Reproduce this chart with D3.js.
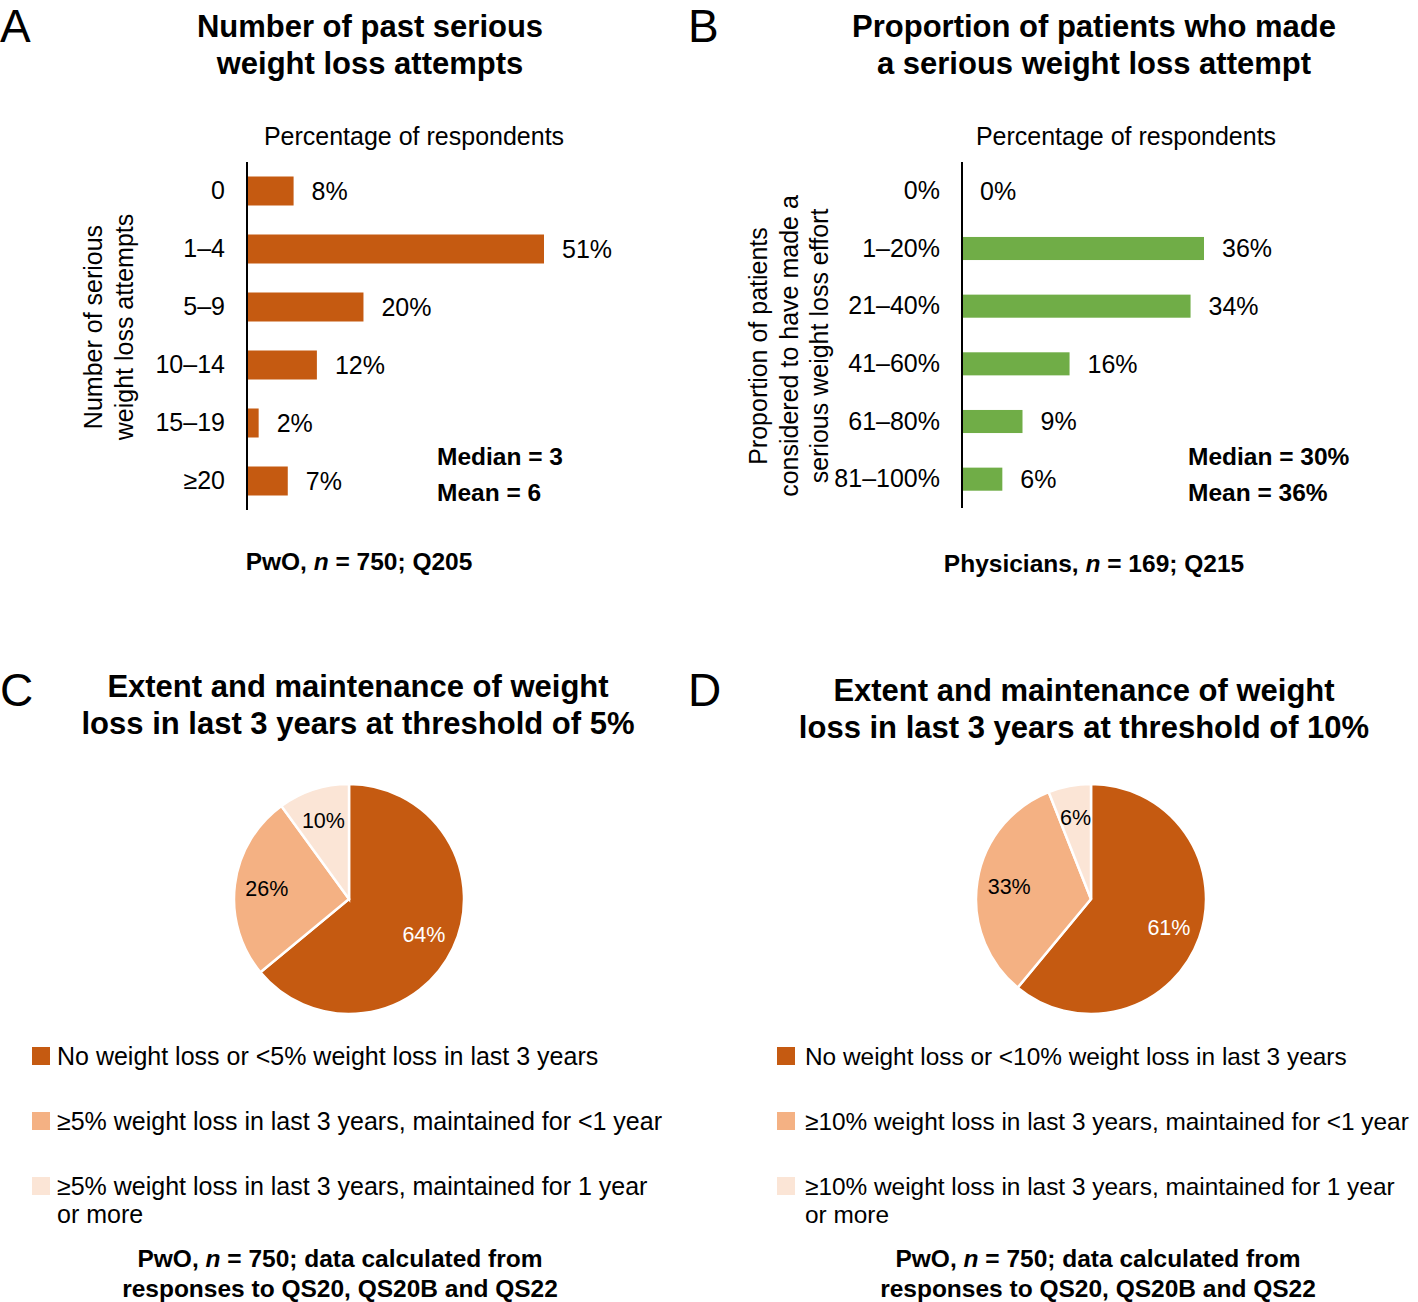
<!DOCTYPE html>
<html>
<head>
<meta charset="utf-8">
<script src="https://cdn.jsdelivr.net/npm/d3@7"></script>
<style>
  html, body { margin: 0; padding: 0; background: #fff; }
  svg text { font-family: "Liberation Sans", Arial, sans-serif; fill: #000; }
</style>
</head>
<body>
<svg id="chart" width="1418" height="1302"></svg>
<script>
// ---------- DATA ----------
const attemptCategories = ["0", "1–4", "5–9", "10–14", "15–19", "≥20"];
const attemptValues = [8, 51, 20, 12, 2, 7];

const proportionCategories = ["0%", "1–20%", "21–40%", "41–60%", "61–80%", "81–100%"];
const proportionValues = [0, 36, 34, 16, 9, 6];

const pieCValues = [64, 26, 10];
const pieDValues = [61, 33, 6];

const legendC = [
  ["No weight loss or <5% weight loss in last 3 years"],
  ["≥5% weight loss in last 3 years, maintained for <1 year"],
  ["≥5% weight loss in last 3 years, maintained for 1 year", "or more"]
];
const legendD = [
  ["No weight loss or <10% weight loss in last 3 years"],
  ["≥10% weight loss in last 3 years, maintained for <1 year"],
  ["≥10% weight loss in last 3 years, maintained for 1 year", "or more"]
];
const pieColors = ["#C55A11", "#F4B183", "#FBE5D6"];
const pieLabelColors = ["#ffffff", "#000000", "#000000"];

// ---------- STYLE CONSTANTS ----------
const FS = 25;      // regular text
const FSB = 24.5;   // bold notes
const FST = 31;     // titles

// ---------- DRAW ----------
const svg = d3.select("#chart");

function panelLetter(letter, x, y) {
  svg.append("text").attr("x", x).attr("y", y)
    .attr("font-size", 46).attr("font-weight", "normal").text(letter);
}

function titleLines(lines, cx, y0, step, size) {
  lines.forEach((l, i) => {
    svg.append("text").attr("x", cx).attr("y", y0 + i * step)
      .attr("text-anchor", "middle").attr("font-size", size)
      .attr("font-weight", "bold").text(l);
  });
}

function footnote(parts, cx, y) {
  const t = svg.append("text").attr("x", cx).attr("y", y)
    .attr("text-anchor", "middle").attr("font-size", FSB).attr("font-weight", "bold");
  parts.forEach(p => {
    const ts = t.append("tspan").text(p.t);
    if (p.i) ts.attr("font-style", "italic");
  });
}

function barPanel(opts) {
  const { cats, vals, axisX, maxVal, maxX, color, barPad, yTop, yBot } = opts;
  const x = d3.scaleLinear().domain([0, maxVal]).range([axisX, maxX]);
  const y = d3.scaleBand().domain(cats).range([yTop, yBot]).paddingInner(barPad).paddingOuter(barPad / 2);

  svg.append("g").selectAll("rect").data(vals).join("rect")
    .attr("x", axisX)
    .attr("y", (d, i) => y(cats[i]))
    .attr("width", d => x(d) - axisX)
    .attr("height", y.bandwidth())
    .attr("fill", color);

  const axis = d3.axisLeft(y).tickSize(0).tickPadding(22);
  const g = svg.append("g").attr("transform", `translate(${axisX},0)`).call(axis);
  g.select(".domain").remove();
  g.selectAll("text").attr("font-size", FS).attr("font-family", '"Liberation Sans", Arial, sans-serif').attr("fill", "#000");
  svg.append("line").attr("x1", axisX).attr("x2", axisX).attr("y1", yTop).attr("y2", yBot)
    .attr("stroke", "#000").attr("stroke-width", 2);

  svg.append("g").selectAll("text").data(vals).join("text")
    .attr("x", d => x(d) + 18)
    .attr("y", (d, i) => y(cats[i]) + y.bandwidth() / 2)
    .attr("dy", "0.35em")
    .attr("font-size", FS)
    .text(d => d + "%");
}

function rotatedTitle(lines, xs, cy) {
  lines.forEach((l, i) => {
    svg.append("text")
      .attr("transform", `translate(${xs[i]},${cy}) rotate(-90)`)
      .attr("text-anchor", "middle").attr("dy", "0.35em")
      .attr("font-size", FS).text(l);
  });
}

// ----- Panel A -----
panelLetter("A", 0, 42);
titleLines(["Number of past serious", "weight loss attempts"], 370, 37, 37, FST);
svg.append("text").attr("x", 414).attr("y", 145).attr("text-anchor", "middle")
  .attr("font-size", FS).text("Percentage of respondents");
barPanel({ cats: attemptCategories, vals: attemptValues, axisX: 247, maxVal: 51, maxX: 544,
  color: "#C55A11", barPad: 0.5, yTop: 162, yBot: 510 });
rotatedTitle(["Number of serious", "weight loss attempts"], [93, 124], 327);
svg.append("text").attr("x", 437).attr("y", 465).attr("font-size", FSB).attr("font-weight", "bold").text("Median = 3");
svg.append("text").attr("x", 437).attr("y", 501).attr("font-size", FSB).attr("font-weight", "bold").text("Mean = 6");
footnote([{ t: "PwO, " }, { t: "n", i: true }, { t: " = 750; Q205" }], 359, 570);

// ----- Panel B -----
panelLetter("B", 688, 42);
titleLines(["Proportion of patients who made", "a serious weight loss attempt"], 1094, 37, 37, FST);
svg.append("text").attr("x", 1126).attr("y", 145).attr("text-anchor", "middle")
  .attr("font-size", FS).text("Percentage of respondents");
barPanel({ cats: proportionCategories, vals: proportionValues, axisX: 962, maxVal: 36, maxX: 1204,
  color: "#70AD47", barPad: 0.6, yTop: 162, yBot: 508 });
rotatedTitle(["Proportion of patients", "considered to have made a", "serious weight loss effort"], [758, 789, 819], 346);
svg.append("text").attr("x", 1188).attr("y", 465).attr("font-size", FSB).attr("font-weight", "bold").text("Median = 30%");
svg.append("text").attr("x", 1188).attr("y", 501).attr("font-size", FSB).attr("font-weight", "bold").text("Mean = 36%");
footnote([{ t: "Physicians, " }, { t: "n", i: true }, { t: " = 169; Q215" }], 1094, 572);

// ----- Pies -----
function piePanel(opts) {
  const { vals, cx, cy, r, legend, legX, textOff, legFS, footX } = opts;
  const pie = d3.pie().sort(null).value(d => d);
  const arcs = pie(vals);
  const arc = d3.arc().innerRadius(0).outerRadius(r);
  const labelArc = d3.arc().innerRadius(r * 0.72).outerRadius(r * 0.72);
  const g = svg.append("g").attr("transform", `translate(${cx},${cy})`);
  g.selectAll("path").data(arcs).join("path")
    .attr("d", arc).attr("fill", (d, i) => pieColors[i])
    .attr("stroke", "#fff").attr("stroke-width", 2.5);
  g.selectAll("text").data(arcs).join("text")
    .attr("transform", d => `translate(${labelArc.centroid(d)})`)
    .attr("text-anchor", "middle").attr("dy", "0.35em")
    .attr("font-size", 21.5)
    .style("fill", (d, i) => pieLabelColors[i])
    .text(d => d.value + "%");

  const legY = [1047, 1112, 1177];
  legend.forEach((lines, i) => {
    svg.append("rect").attr("x", legX).attr("y", legY[i]).attr("width", 18).attr("height", 18)
      .attr("fill", pieColors[i]);
    lines.forEach((l, j) => {
      svg.append("text").attr("x", legX + textOff).attr("y", legY[i] + 18 + j * 28)
        .attr("font-size", legFS).text(l);
    });
  });
  const f1 = svg.append("text").attr("x", footX).attr("y", 1267).attr("text-anchor", "middle")
    .attr("font-size", FSB).attr("font-weight", "bold");
  f1.append("tspan").text("PwO, ");
  f1.append("tspan").attr("font-style", "italic").text("n");
  f1.append("tspan").text(" = 750; data calculated from");
  svg.append("text").attr("x", footX).attr("y", 1297).attr("text-anchor", "middle")
    .attr("font-size", FSB).attr("font-weight", "bold").text("responses to QS20, QS20B and QS22");
}

panelLetter("C", 0, 706);
titleLines(["Extent and maintenance of weight", "loss in last 3 years at threshold of 5%"], 358, 697, 37, FST);
piePanel({ vals: pieCValues, cx: 349, cy: 899, r: 115, legend: legendC, legX: 32, textOff: 25, legFS: FS, footX: 340 });

panelLetter("D", 688, 706);
titleLines(["Extent and maintenance of weight", "loss in last 3 years at threshold of 10%"], 1084, 701, 37, FST);
piePanel({ vals: pieDValues, cx: 1091, cy: 899, r: 115, legend: legendD, legX: 777, textOff: 28, legFS: 24.4, footX: 1098 });
</script>
</body>
</html>
